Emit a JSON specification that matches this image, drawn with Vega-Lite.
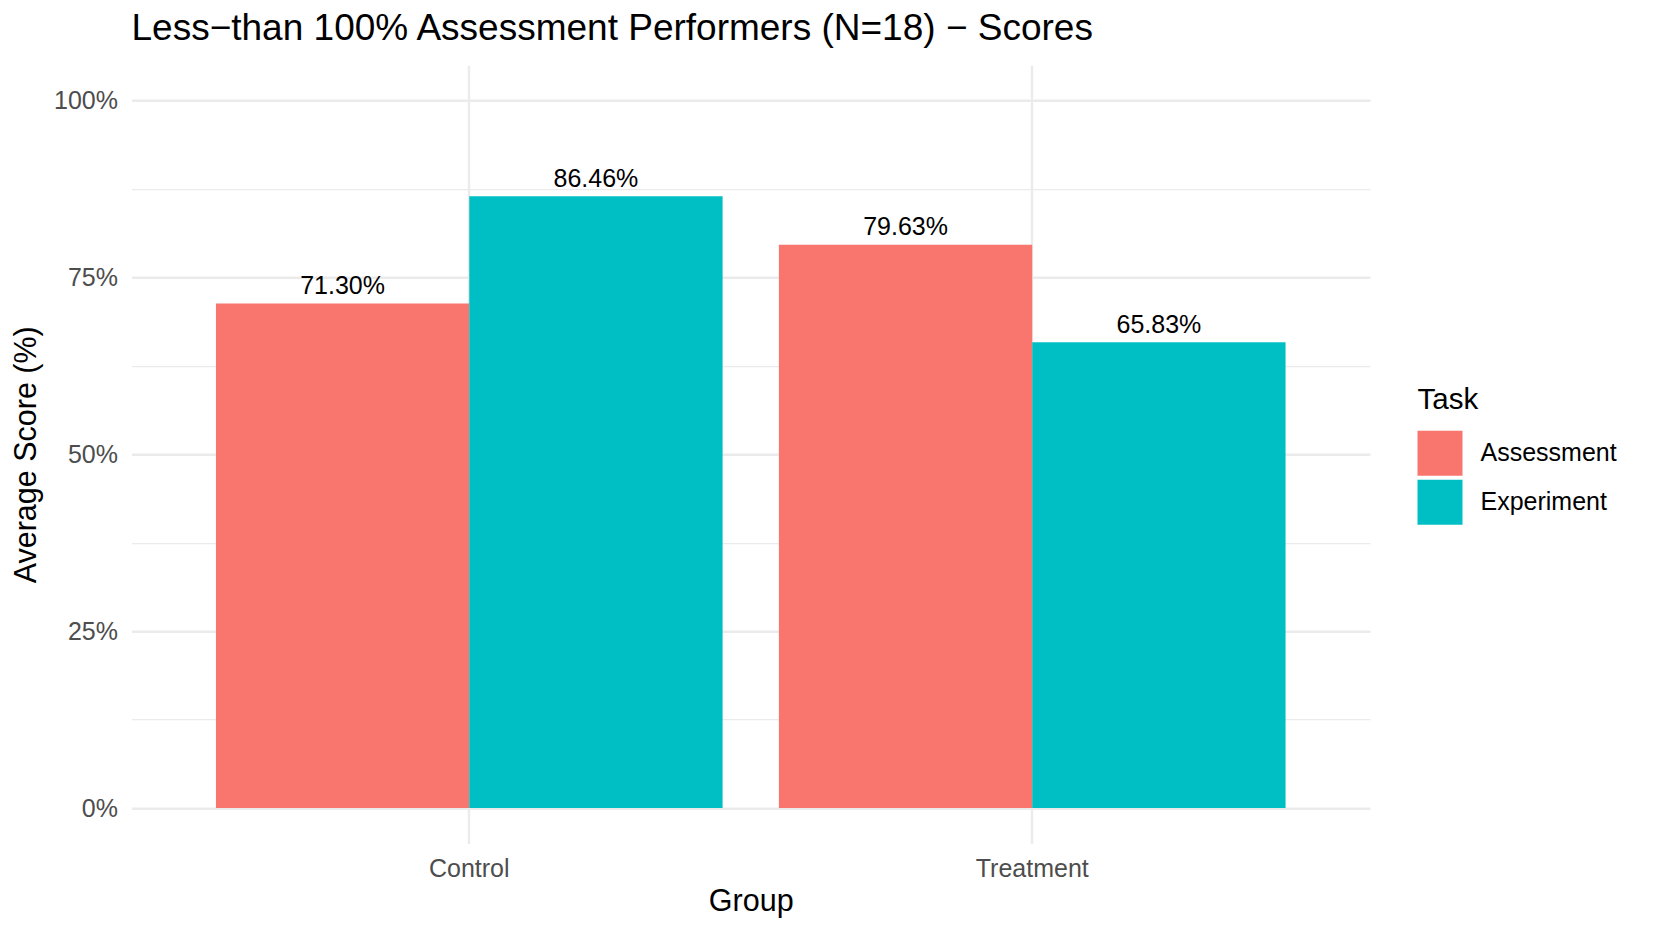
{
  "$schema": "https://vega.github.io/schema/vega-lite/v6.json",
  "autosize": {"type": "none"},
  "padding": {"left": 131.5, "top": 65.2, "right": 291, "bottom": 89.6},
  "width": 1238.5,
  "height": 778.2,
  "background": "white",
  "config": {
    "font": "Liberation Sans",
    "view": {"stroke": null}
  },
  "title": {
    "text": "Less−than 100% Assessment Performers (N=18) − Scores",
    "anchor": "start",
    "frame": "group",
    "baseline": "alphabetic",
    "offset": -11.5,
    "fontSize": 37,
    "fontWeight": "normal",
    "color": "black",
    "font": "Liberation Sans"
  },
  "data": {
    "values": [
      {"Group": "Control", "Task": "Assessment", "Score": 0.7130},
      {"Group": "Control", "Task": "Experiment", "Score": 0.8646},
      {"Group": "Treatment", "Task": "Assessment", "Score": 0.7963},
      {"Group": "Treatment", "Task": "Experiment", "Score": 0.6583}
    ]
  },
  "encoding": {
    "x": {
      "field": "Group",
      "type": "nominal",
      "sort": ["Control", "Treatment"],
      "scale": {"paddingInner": 0.1, "paddingOuter": 0.15},
      "axis": {
        "title": "Group",
        "titleFontSize": 30.5,
        "titleFontWeight": "normal",
        "titleColor": "black",
        "titlePadding": 4.5,
        "labelFontSize": 25,
        "labelColor": "#4D4D4D",
        "labelAngle": 0,
        "labelPadding": 13.5,
        "ticks": false,
        "domain": false,
        "grid": true,
        "bandPosition": 0.5,
        "gridColor": "#EBEBEB",
        "gridWidth": 2.4
      }
    },
    "xOffset": {"field": "Task", "type": "nominal", "sort": ["Assessment", "Experiment"]},
    "y": {
      "field": "Score",
      "type": "quantitative",
      "scale": {"domain": [-0.05, 1.05], "nice": false, "zero": false},
      "axis": {
        "title": "Average Score (%)",
        "titleFontSize": 30.5,
        "titleFontWeight": "normal",
        "titleColor": "black",
        "titlePadding": 12.5,
        "values": [0, 0.125, 0.25, 0.375, 0.5, 0.625, 0.75, 0.875, 1],
        "format": ".0%",
        "labelExpr": "(round(datum.value*1000) % 250 === 0) ? datum.label : ''",
        "labelFontSize": 25,
        "labelColor": "#4D4D4D",
        "labelPadding": 14,
        "ticks": false,
        "domain": false,
        "grid": true,
        "gridColor": "#EBEBEB",
        "gridWidth": {"condition": {"test": "round(datum.value*1000) % 250 === 0", "value": 2.4}, "value": 1.3}
      }
    }
  },
  "layer": [
    {
      "mark": {"type": "bar"},
      "encoding": {
        "color": {
          "field": "Task",
          "type": "nominal",
          "scale": {"domain": ["Assessment", "Experiment"], "range": ["#F8766D", "#00BFC4"]},
          "legend": {
            "title": "Task",
            "orient": "none",
            "legendX": 1286,
            "legendY": 321,
            "padding": 0,
            "titleFontSize": 29.5,
            "titleFontWeight": "normal",
            "titleColor": "black",
            "titlePadding": 15,
            "labelFontSize": 25,
            "labelColor": "black",
            "labelOffset": 18,
            "symbolType": "square",
            "symbolSize": 2025,
            "symbolStrokeWidth": 0,
            "symbolOpacity": 1,
            "rowPadding": 4
          }
        }
      }
    },
    {
      "mark": {"type": "text", "baseline": "alphabetic", "dy": -9.5, "fontSize": 25, "color": "black"},
      "encoding": {
        "text": {"field": "Score", "type": "quantitative", "format": ".2%"}
      }
    }
  ]
}
